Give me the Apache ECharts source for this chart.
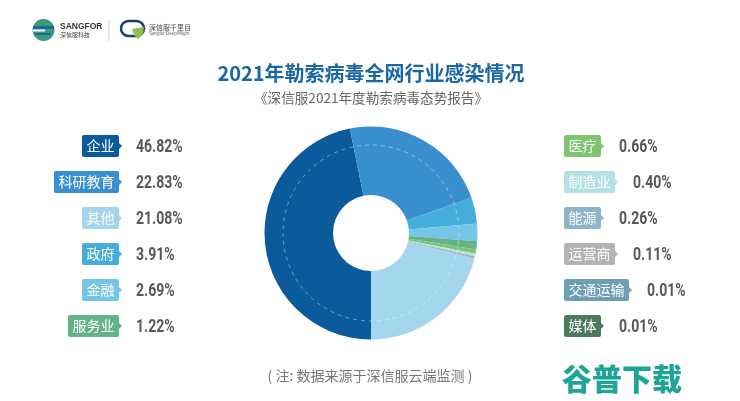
<!DOCTYPE html>
<html>
<head>
    <meta charset="utf-8">
    <title>2021年勒索病毒全网行业感染情况</title>
    <script src="https://cdn.jsdelivr.net/npm/echarts@6/dist/echarts.min.js"></script>
    <style>
        html, body { margin: 0; padding: 0; background: #fff; }
        #chart { width: 740px; height: 401px; }
    </style>
</head>
<body>
    <div id="chart"></div>
    <script>
        // 数据
        var leftNames = ['企业', '科研教育', '其他', '政府', '金融', '服务业'];
        var leftValues = [46.82, 22.83, 21.08, 3.91, 2.69, 1.22];
        var leftColors = ['#0a5a9c', '#3a8fcf', '#a3d5ec', '#45add9', '#74c5e6', '#64b287'];
        var rightNames = ['医疗', '制造业', '能源', '运营商', '交通运输', '媒体'];
        var rightValues = [0.66, 0.40, 0.26, 0.11, 0.01, 0.01];
        var rightColors = ['#7ec56f', '#b3e0e5', '#8fb3c8', '#b3b3b3', '#6f9fb3', '#4d7a5e'];
        // 饼图里的顺序:其他排在最后
        var sliceOrder = ['企业', '科研教育', '政府', '金融', '服务业', '医疗', '制造业', '能源', '运营商', '交通运输', '媒体', '其他'];

        var allNames = leftNames.concat(rightNames);
        var allValues = leftValues.concat(rightValues);
        var allColors = leftColors.concat(rightColors);

        var pieData = sliceOrder.map(function (name) {
            var i = allNames.indexOf(name);
            return { name: name, value: allValues[i], itemStyle: { color: allColors[i] } };
        });

        var CJK = '"Noto Sans CJK SC", sans-serif';
        var NUM = 'Roboto, sans-serif';
        var rowY = [146, 182, 218, 254, 290, 326];

        function txt(text, x, y, font, fill, align) {
            return {
                type: 'text', silent: true,
                style: { text: text, x: x, y: y, font: font, fill: fill, textAlign: align || 'left', textVerticalAlign: 'middle' }
            };
        }

        // 标签:圆角色块 + 小箭头 + 百分比
        function tag(name, value, color, left, y, valueGap) {
            var w = 9 + name.length * 14;
            // 百分比字体偏窄,横向压缩
            var num = txt(value.toFixed(2) + '%', 0, 0, 'bold 18px ' + NUM, '#55585c');
            num.x = left + w + valueGap;
            num.y = y + 1;
            num.scaleX = 0.78;
            return [
                { type: 'rect', silent: true, shape: { x: left, y: y - 11, width: w, height: 22, r: 2 }, style: { fill: color } },
                { type: 'polygon', silent: true, shape: { points: [[left + w, y - 3], [left + w + 3, y], [left + w, y + 3]] }, style: { fill: color } },
                txt(name, left + w / 2, y, '14px ' + CJK, '#fff', 'center'),
                num
            ];
        }

        var graphics = [];
        leftNames.forEach(function (name, i) {
            var w = 9 + name.length * 14;
            graphics = graphics.concat(tag(name, leftValues[i], leftColors[i], 119 - w, rowY[i], 17));
        });
        rightNames.forEach(function (name, i) {
            graphics = graphics.concat(tag(name, rightValues[i], rightColors[i], 564, rowY[i], 18));
        });

        // 标题和脚注
        graphics.push(txt('2021年勒索病毒全网行业感染情况', 371, 73, 'bold 20px ' + CJK, '#1a67a3', 'center'));
        graphics.push(txt('《深信服2021年度勒索病毒态势报告》', 371, 98, '13.6px ' + CJK, '#666', 'center'));
        graphics.push(txt('( 注: 数据来源于深信服云端监测 )', 370, 376, '14px ' + CJK, '#777', 'center'));
        graphics.push(txt('谷普下载', 622, 379, '900 30px ' + CJK, '#1fa595', 'center'));

        // 饼图上的虚线圆环
        graphics.push({
            type: 'circle', silent: true, z: 100,
            shape: { cx: 371, cy: 233, r: 88 },
            style: { fill: 'none', stroke: 'rgba(255,255,255,0.4)', lineWidth: 1, lineDash: [4, 4] }
        });

        // 左上角 logo
        graphics.push(
            { type: 'circle', silent: true, shape: { cx: 43.5, cy: 30, r: 11 }, style: { fill: '#3a9b7a' } },
            { type: 'rect', silent: true, shape: { x: 33, y: 26, width: 21, height: 3 }, style: { fill: '#1a67a3' } },
            { type: 'rect', silent: true, shape: { x: 33, y: 29.5, width: 12, height: 2 }, style: { fill: '#fff' } },
            { type: 'rect', silent: true, shape: { x: 35, y: 33, width: 16, height: 2 }, style: { fill: '#1a67a3' } },
            txt('SANGFOR', 60, 27, 'bold 8.5px "Liberation Sans", sans-serif', '#333'),
            txt('深信服科技', 60, 35, '6px ' + CJK, '#444'),
            { type: 'line', silent: true, shape: { x1: 109, y1: 20, x2: 109, y2: 41 }, style: { stroke: '#ccc', lineWidth: 1 } },
            { type: 'rect', silent: true, shape: { x: 121, y: 21, width: 23, height: 15, r: 7.5 }, style: { fill: 'none', stroke: '#17406e', lineWidth: 2.5 } },
            { type: 'polygon', silent: true, shape: { points: [[132, 29], [144, 27], [143, 34], [138, 39], [134, 35]] }, style: { fill: '#8cc152' } },
            txt('深信服千里目', 149, 27, '7px ' + CJK, '#444'),
            txt('Sangfor DeepWlight', 149, 33.5, '4.5px "Liberation Sans", sans-serif', '#666')
        );

        var myChart = echarts.init(document.getElementById('chart'));
        myChart.setOption({
            animation: false,
            backgroundColor: '#fff',
            graphic: graphics,
            series: [
                {
                    type: 'pie',
                    center: [371, 233],
                    radius: [38, 106.5],
                    startAngle: 270,
                    clockwise: true,
                    sort: null,
                    silent: true,
                    label: { show: false },
                    labelLine: { show: false },
                    itemStyle: { borderWidth: 0 },
                    data: pieData
                }
            ]
        });
    </script>
</body>
</html>
